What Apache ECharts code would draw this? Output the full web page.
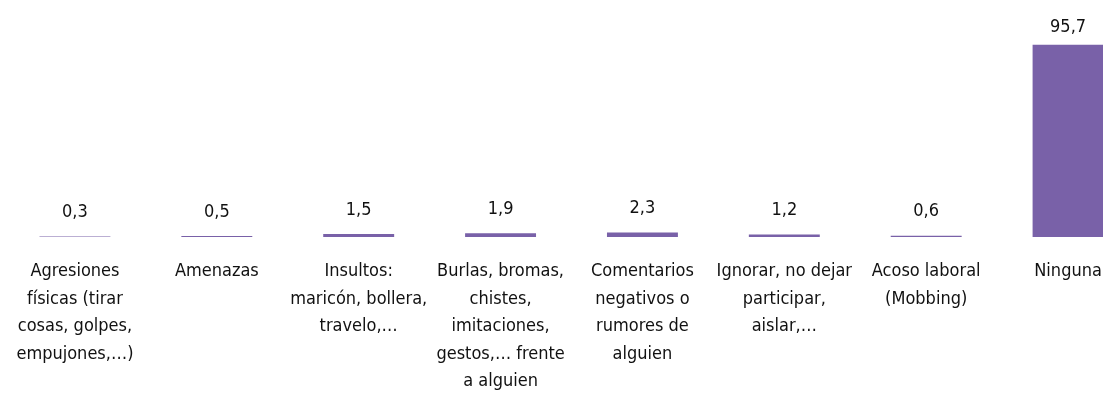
<!DOCTYPE html>
<html>
<head>
<meta charset="utf-8">
<script src="https://cdn.jsdelivr.net/npm/echarts@6/dist/echarts.min.js"></script>
<style>
  html, body { margin: 0; padding: 0; background: #ffffff; }
  #chart { width: 1103px; height: 398px; }
</style>
</head>
<body>
<div id="chart"></div>
<script>
// Tipos de discriminación sufrida (%)
const categories = [
  'Agresiones\nfísicas (tirar\ncosas, golpes,\nempujones,…)',
  'Amenazas',
  'Insultos:\nmaricón, bollera,\ntravelo,…',
  'Burlas, bromas,\nchistes,\nimitaciones,\ngestos,… frente\na alguien',
  'Comentarios\nnegativos o\nrumores de\nalguien',
  'Ignorar, no dejar\nparticipar,\naislar,…',
  'Acoso laboral\n(Mobbing)',
  'Ninguna'
];
const values = [0.3, 0.5, 1.5, 1.9, 2.3, 1.2, 0.6, 95.7];

const FONT = '"DejaVu Sans Condensed", "Liberation Sans Narrow", sans-serif';
const TEXT = '#111111';
const BAR = '#7961a8';

const chart = echarts.init(document.getElementById('chart'), null, { renderer: 'canvas' });

chart.setOption({
  animation: false,
  grid: {
    left: 4, top: 36, width: 1135, height: 201,
    containLabel: false,
    outerBoundsMode: 'none'
  },
  xAxis: {
    type: 'category',
    data: categories,
    axisLine: { show: false },
    axisTick: { show: false },
    axisLabel: {
      interval: 0,
      margin: 21,
      color: TEXT,
      fontFamily: FONT,
      fontSize: 18,
      lineHeight: 27.5,
      align: 'center'
    }
  },
  yAxis: {
    type: 'value',
    min: 0,
    max: 100,
    show: false,
    splitLine: { show: false }
  },
  series: [{
    type: 'bar',
    barWidth: '50%',
    itemStyle: { color: BAR },
    data: values.map((v, i) => ({
      value: v,
      label: i === values.length - 1 ? { distance: 8 } : undefined
    })),
    label: {
      show: true,
      position: 'top',
      distance: 15,
      color: TEXT,
      fontFamily: FONT,
      fontSize: 18,
      formatter: p => String(p.value).replace('.', ',')
    }
  }]
});
</script>
</body>
</html>
